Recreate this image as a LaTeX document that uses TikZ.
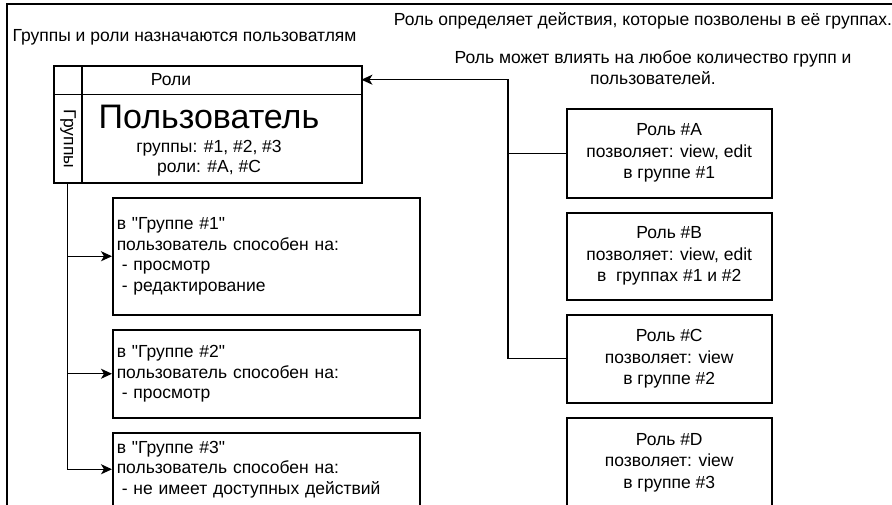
\documentclass[tikz,border=0pt]{standalone}
\usepackage{fontspec}
\setmainfont{Liberation Sans}
\usetikzlibrary{arrows.meta}
\newcommand{\sq}{\XeTeXglyph\XeTeXcharglyph"22\relax}
\begin{document}
\begin{tikzpicture}[x=1pt,y=-1pt,
  txt/.style={font=\fontsize{17.5}{20.5}\selectfont, inner sep=0pt},
  box/.style={draw, line width=1.5pt, inner sep=0pt},
  rolebox/.style={box, minimum width=205pt, minimum height=88pt, align=center, font=\fontsize{17.5}{21.5}\selectfont},
  grpbox/.style={box, minimum width=307pt, text width=299pt, inner xsep=4pt, align=left, font=\fontsize{17.5}{20.5}\selectfont},
  conn/.style={line width=1.4pt},
  arr/.style={conn, -{Stealth[length=11pt,width=10pt,inset=3pt]}}]
\useasboundingbox (0,0) rectangle (892,504);
\clip (0,0) rectangle (892,504);
% frame
\draw[line width=2.5pt] (7,510) -- (7,4) -- (900,4);
% captions
\node[txt] (cap1) at (184.5,37) {Группы и роли назначаются пользоватлям};
\node[txt] (cap2) at (643,21) {Роль определяет действия, которые позволены в её группах.};
\node[txt, align=center] (cap3) at (653,67.5) {Роль может влиять на любое количество групп и\\пользователей.};
% user box
\node[box, anchor=north west, minimum width=308pt, minimum height=117pt] (user) at (53,65) {};
\node[inner sep=0pt, anchor=north west, minimum width=279pt, minimum height=29pt] (rolesrow) at (82,65) {};
\node[inner sep=0pt, anchor=north west, minimum width=29pt, minimum height=88pt] (groupscol) at (53,94) {};
\draw[line width=1.5pt] (user.north west |- rolesrow.south) -- (user.north east |- rolesrow.south);
\draw[line width=1.5pt] (rolesrow.north west) -- (rolesrow.north west |- user.south);
\node[txt] (roleslbl) at (171,80) {Роли};
\node[txt, rotate=-90] (grplbl) at (68,139) {Группы};
\node[inner sep=0pt, font=\fontsize{34}{36}\selectfont] (uname) at (209,117) {Пользователь};
\node[txt] (ugroups) at (209,148) {группы: \#1, \#2, \#3};
\node[txt] (uroles) at (209,168) {роли: \#А, \#С};
% group boxes
\node[grpbox, anchor=north west, minimum height=117pt] (g1) at (112,197) {в \sq Группе \#1\sq\\пользователь способен на:\\\hspace*{5pt}- просмотр\\\hspace*{5pt}- редактирование};
\node[grpbox, anchor=north west, minimum height=88pt] (g2) at (112,329) {в \sq Группе \#2\sq\\пользователь способен на:\\\hspace*{5pt}- просмотр};
\node[grpbox, anchor=north west, minimum height=73pt] (g3) at (112,432) {в \sq Группе \#3\sq\\пользователь способен на:\\\hspace*{5pt}- не имеет доступных действий};
% role boxes
\node[rolebox, anchor=north west, minimum height=89pt] (rA) at (566,108) {Роль \#A\\позволяет: view, edit\\в группе \#1};
\node[rolebox, anchor=north west, minimum height=87pt] (rB) at (566,212) {Роль \#B\\позволяет: view, edit\\в\ \ группах \#1 и \#2};
\node[rolebox, anchor=north west, minimum height=88pt] (rC) at (566,314) {Роль \#C\\позволяет: view\\в группе \#2};
\node[rolebox, anchor=north west, minimum height=90pt] (rD) at (566,417) {Роль \#D\\позволяет: view\\в группе \#3};
% connectors
\coordinate (jx) at (508,0);
\draw[arr] (rC.west) -- (rC.west -| jx) |- (rolesrow.east);
\draw[conn] (rA.west) -- (rA.west -| jx);
\draw[arr] (groupscol.south) |- (g3.west);
\draw[arr] (groupscol.south |- g1.west) -- (g1.west);
\draw[arr] (groupscol.south |- g2.west) -- (g2.west);
\end{tikzpicture}
\end{document}
